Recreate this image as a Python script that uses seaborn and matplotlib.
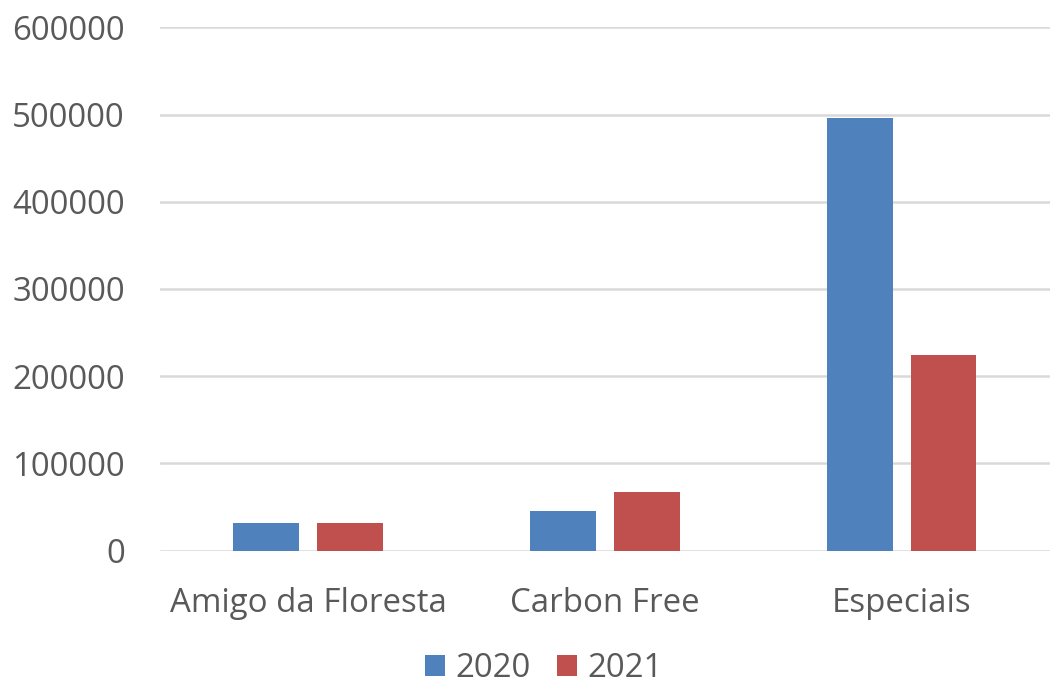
import pandas as pd
import matplotlib
matplotlib.use('Agg')
import matplotlib.pyplot as plt
import seaborn as sns

# data
categories = ['Amigo da Floresta', 'Carbon Free', 'Especiais']
years = ['2020', '2021']
values_2020 = [31500, 45000, 496000]
values_2021 = [32000, 67500, 224000]
colors = ['#4F81BD', '#C0504D']
yticks = [0, 100000, 200000, 300000, 400000, 500000, 600000]

df = pd.DataFrame({
    'categoria': categories * 2,
    'ano': [years[0]] * 3 + [years[1]] * 3,
    'valor': values_2020 + values_2021,
})

sns.set_theme(style='white')
plt.rcParams['font.family'] = ['Open Sans', 'DejaVu Sans']
text_color = '#595959'

fig = plt.figure(figsize=(10.5, 6.84), dpi=100)
ax = fig.add_axes([0.152, 0.195, 0.848, 0.765])

sns.barplot(data=df, x='categoria', y='valor', hue='ano',
            palette=colors, width=0.564, gap=0.214, ax=ax,
            edgecolor='none', saturation=1, legend=True)

ax.set_ylim(0, 600000)
ax.set_yticks(yticks)
ax.set_yticklabels([str(v) for v in yticks])
ax.grid(True, axis='y', color='#D9D9D9', linewidth=1.8)
ax.set_axisbelow(True)
for s in ax.spines.values():
    s.set_visible(False)
ax.set_xlabel('')
ax.set_ylabel('')
ax.tick_params(axis='both', length=0, labelsize=23.8, colors=text_color)
ax.tick_params(axis='y', pad=25)
ax.tick_params(axis='x', pad=26)

# legend below the plot, centred
handles, labels = ax.get_legend_handles_labels()
ax.legend_.remove()
fig.legend(handles, labels, loc='center', bbox_to_anchor=(0.518, 0.022),
           ncol=2, frameon=False, fontsize=23.8, labelcolor=text_color,
           handlelength=0.6, handleheight=0.6, handletextpad=0.3,
           columnspacing=0.82)

fig.savefig('out.png', dpi=100, facecolor='white')
